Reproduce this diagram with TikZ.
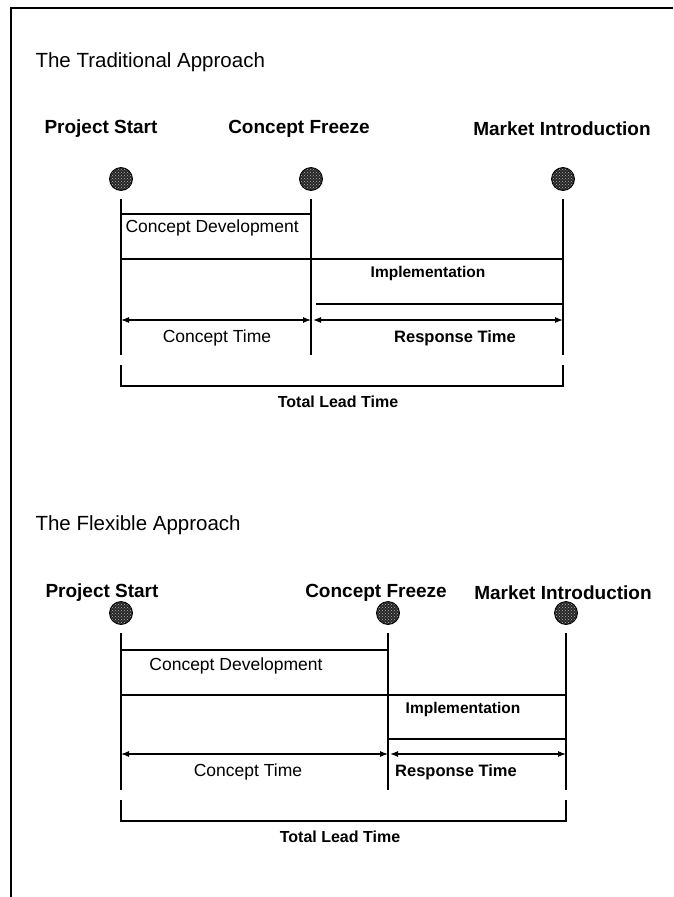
\documentclass[tikz,border=0pt]{standalone}
\usepackage{fontspec}
\setmainfont{Liberation Sans}
\usetikzlibrary{arrows.meta,patterns}

\begin{document}
\begin{tikzpicture}[x=1pt, y=-1pt, >={Latex[length=8pt,width=6pt]},
  every node/.style={font=\fontsize{16}{18}\selectfont},
  heading/.style={anchor=west, font=\fontsize{20.5}{22}\selectfont},
  mlabel/.style={font=\bfseries\fontsize{19}{21}\selectfont},
  phase/.style={font=\fontsize{17.5}{19}\selectfont},
  boldphase/.style={font=\bfseries\fontsize{15.5}{18}\selectfont},
  mile/.style={circle, draw, line width=0.8pt, minimum size=23pt, inner sep=0pt,
    preaction={fill=black!85}, pattern=crosshatch dots, pattern color=white!70!black},
  rule/.style={line width=1.1pt}]
  \useasboundingbox (0,0) rectangle (673,897);
  % frame
  \draw[rule] (11,897) -- (11,8) -- (673,8);

  % traditional approach
  \node[heading] (h1) at (32,62) {The Traditional Approach};
  \node[mlabel] (ps1) at (101,129) {Project Start};
  \node[mlabel] (cf1) at (299,129) {Concept Freeze};
  \node[mlabel] (mi1) at (562,129) {Market Introduction};
  \node[mile] (s1) at (121,179) {};
  \node[mile] (f1) at (311,179) {};
  \node[mile] (e1) at (563,179) {};
  \coordinate (s1t) at (121,199); \coordinate (s1b) at (121,355);
  \coordinate (f1t) at (311,199); \coordinate (f1b) at (311,355);
  \coordinate (e1t) at (563,199); \coordinate (e1b) at (563,355);
  \draw[rule] (s1t) -- (s1b);
  \draw[rule] (f1t) -- (f1b);
  \draw[rule] (e1t) -- (e1b);
  \draw[rule] (s1t |- 0,214) -- (f1t |- 0,214);
  \node[phase, anchor=west] (cd1) at (122,228) {Concept Development};
  \draw[rule] (s1t |- 0,259) -- (e1t |- 0,259);
  \node[boldphase] (im1) at (428,273) {Implementation};
  \draw[rule] (316,304) -- (e1t |- 0,304);
  \draw[rule, <->] (s1t |- 0,320) -- (f1t |- 0,320);
  \draw[rule, <->] ([xshift=2pt]f1t |- 0,320) -- (e1t |- 0,320);
  \node[phase] (ct1) at (217,338) {Concept Time};
  \node[boldphase, font=\bfseries\fontsize{16.5}{18}\selectfont] (rt1) at (455,338) {Response Time};
  \draw[rule] (121,365) -- (121,386) -- (563,386) -- (563,365);
  \node[boldphase, font=\bfseries\fontsize{16}{18}\selectfont] (tl1) at (338,402) {Total Lead Time};

  % flexible approach
  \node[heading] (h2) at (32,525) {The Flexible Approach};
  \node[mlabel] (ps2) at (102,593) {Project Start};
  \node[mlabel] (cf2) at (376,593) {Concept Freeze};
  \node[mlabel] (mi2) at (563,593) {Market Introduction};
  \node[mile] (s2) at (121,613) {};
  \node[mile] (f2) at (388,613) {};
  \node[mile] (e2) at (566,613) {};
  \coordinate (s2t) at (121,633); \coordinate (s2b) at (121,790);
  \coordinate (f2t) at (388,633); \coordinate (f2b) at (388,790);
  \coordinate (e2t) at (566,633); \coordinate (e2b) at (566,790);
  \draw[rule] (s2t) -- (s2b);
  \draw[rule] (f2t) -- (f2b);
  \draw[rule] (e2t) -- (e2b);
  \draw[rule] (s2t |- 0,650) -- (f2t |- 0,650);
  \node[phase] (cd2) at (236,666) {Concept Development};
  \draw[rule] (s2t |- 0,695) -- (e2t |- 0,695);
  \node[boldphase] (im2) at (463,709) {Implementation};
  \draw[rule] (f2t |- 0,739) -- (e2t |- 0,739);
  \draw[rule, <->] (s2t |- 0,754) -- (f2t |- 0,754);
  \draw[rule, <->] ([xshift=2pt]f2t |- 0,754) -- (e2t |- 0,754);
  \node[phase] (ct2) at (248,772) {Concept Time};
  \node[boldphase, font=\bfseries\fontsize{16.5}{18}\selectfont] (rt2) at (456,772) {Response Time};
  \draw[rule] (121,800) -- (121,821) -- (566,821) -- (566,800);
  \node[boldphase, font=\bfseries\fontsize{16}{18}\selectfont] (tl2) at (340,837) {Total Lead Time};
\end{tikzpicture}
\end{document}
